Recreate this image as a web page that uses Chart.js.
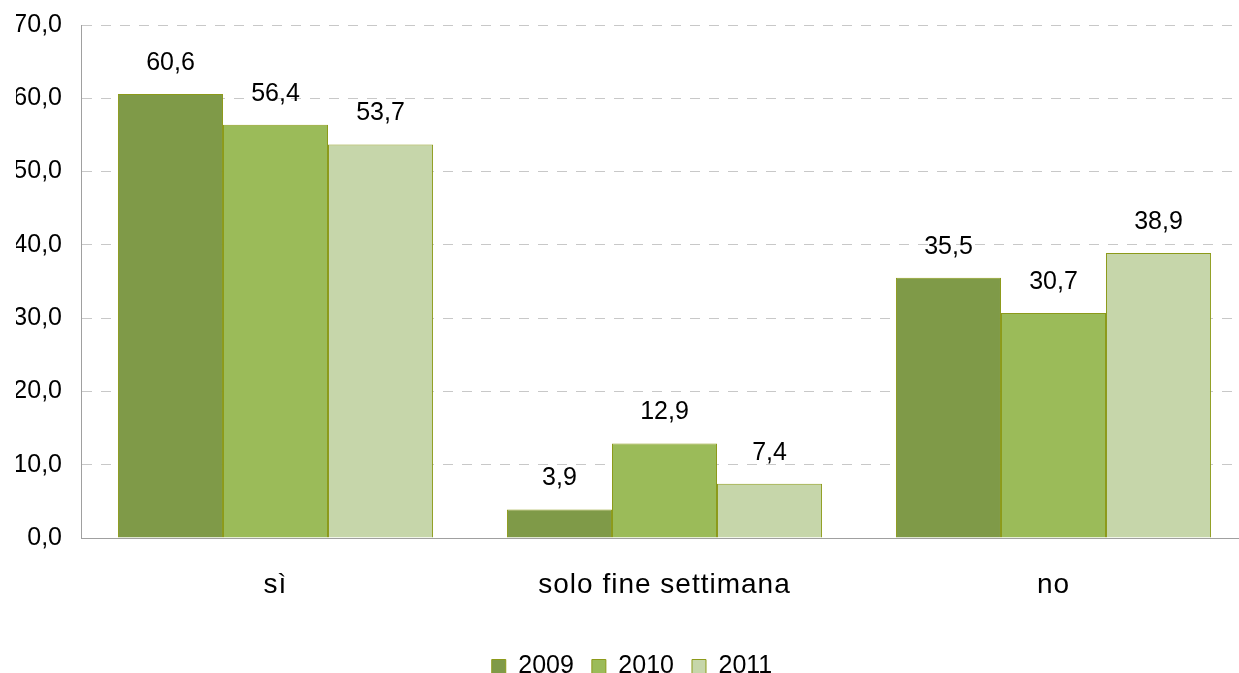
<!DOCTYPE html>
<html>
<head>
<meta charset="utf-8">
<script src="https://cdn.jsdelivr.net/npm/chart.js@4/dist/chart.umd.min.js"></script>
<style>
  html, body { margin: 0; padding: 0; background: #fff; }
  #wrap { width: 1239px; height: 673px; overflow: hidden; }
</style>
</head>
<body>
<div id="wrap"><canvas id="chart" width="1248" height="689"></canvas></div>
<script>
const categories = ['sì', 'solo fine settimana', 'no'];
const years = ['2009', '2010', '2011'];
const values2009 = [60.6, 3.9, 35.5];
const values2010 = [56.4, 12.9, 30.7];
const values2011 = [53.7, 7.4, 38.9];
const fills = ['#7f9a48', '#9bbb59', '#c6d6aa'];

const FONT = '"Liberation Sans", Arial, sans-serif';
const fmt = v => v.toFixed(1).replace('.', ',');

// category labels are slightly spaced out in the original
const xSpacing = {
    id: 'xSpacing',
    afterLayout(chart) {
        const sx = chart.scales.x;
        if (sx._spaced) return;
        const orig = sx.drawLabels.bind(sx);
        sx.drawLabels = (area) => {
            chart.ctx.save();
            chart.ctx.letterSpacing = '1px';
            orig(area);
            chart.ctx.restore();
        };
        sx._spaced = true;
    }
};

// value labels above each bar
const valueLabels = {
    id: 'valueLabels',
    afterDatasetsDraw(chart) {
        const ctx = chart.ctx;
        ctx.save();
        ctx.font = '25px ' + FONT;
        ctx.fillStyle = '#000';
        ctx.textAlign = 'center';
        ctx.textBaseline = 'middle';
        chart.data.datasets.forEach((ds, i) => {
            chart.getDatasetMeta(i).data.forEach((bar, j) => {
                ctx.fillText(fmt(ds.data[j]), bar.x, bar.y - 31);
            });
        });
        ctx.restore();
    }
};

new Chart(document.getElementById('chart'), {
    type: 'bar',
    data: {
        labels: categories,
        datasets: [values2009, values2010, values2011].map((d, i) => ({
            label: years[i],
            data: d,
            backgroundColor: fills[i],
            borderColor: '#8c9a1a',
            borderWidth: 1,
            categoryPercentage: 0.81,
            barPercentage: 1
        }))
    },
    options: {
        responsive: false,
        animation: false,
        layout: { padding: { top: 25, right: 0, left: 16, bottom: 0 } },
        plugins: {
            tooltip: { enabled: false },
            legend: {
                position: 'bottom',
                labels: {
                    font: { family: FONT, size: 25 },
                    color: '#000',
                    boxWidth: 14,
                    boxHeight: 14,
                    padding: 18
                }
            }
        },
        scales: {
            x: {
                grid: { display: false, drawTicks: false },
                border: { color: '#a0a0a0', width: 1 },
                ticks: {
                    color: '#000',
                    padding: 30,
                    font: { family: FONT, size: 28 }
                },
                afterFit(scale) { scale.height = 98; }
            },
            y: {
                min: 0,
                max: 70,
                ticks: {
                    stepSize: 10,
                    color: '#000',
                    padding: 19,
                    font: { family: FONT, size: 25, lineHeight: 0.4 },
                    callback: v => fmt(v)
                },
                grid: { color: '#c8c8c8', drawTicks: false },
                border: { color: '#a0a0a0', width: 1, dash: [10, 9] },
                afterFit(scale) { scale.width = 65; }
            }
        }
    },
    plugins: [xSpacing, valueLabels]
});
</script>
</body>
</html>
